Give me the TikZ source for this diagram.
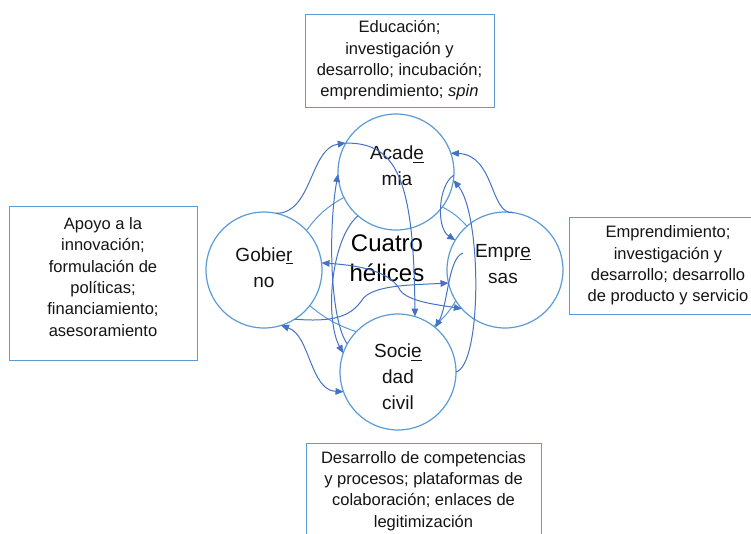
\documentclass[tikz,border=0pt]{standalone}
\usepackage{fontspec}
\setmainfont{Liberation Sans}
\usetikzlibrary{arrows.meta,calc}
\definecolor{ringblue}{RGB}{91,155,213}
\definecolor{arrowblue}{RGB}{68,114,196}

\begin{document}
\begin{tikzpicture}
	[x=0.75pt, y=-0.75pt,
	>={Triangle[length=6pt,width=5pt]},
	helix/.style ={circle, draw=ringblue, line width=0.9pt, minimum size=87pt, inner sep=0pt, outer sep=0pt},
	infobox/.style ={rectangle, draw=ringblue, line width=0.75pt, align=center, inner sep=0pt, text=black!92, font=\fontsize{12.4}{16}\selectfont},
	ringtext/.style ={align=center, inner sep=0pt, text=black!92, font=\fontsize{14.25}{19.5}\selectfont},
	midtext/.style ={align=center, inner sep=0pt, text=black, font=\fontsize{18}{22.5}\selectfont},
	line/.style ={draw=arrowblue, line width=0.75pt, ->},
	twin/.style ={draw=arrowblue, line width=0.75pt, <->},
	link/.style ={draw=ringblue, line width=0.75pt}]
	\useasboundingbox (0,0) rectangle (751,533);
	\clip (0,0) rectangle (751,533);
	\draw (396,172) node[helix] (acad) {};
	\draw (264,270) node[helix] (gob) {};
	\draw (505,270) node[helix] (emp) {};
	\draw (398,372) node[helix] (soc) {};
	\draw (397,166) node[ringtext] (acadtxt) {Acad\underline{e}\\mia};
	\draw (264,268) node[ringtext] (gobtxt) {Gobie\underline{r}\\no};
	\draw (503,264) node[ringtext] (emptxt) {Empr\underline{e}\\sas};
	\draw (398,377) node[ringtext] (soctxt) {Soci\underline{e}\\dad\\civil};
	\draw (387,258) node[midtext] (core) {Cuatro\\hélices};
	\draw (399.5,60.5) node[infobox, minimum width=141.75pt, minimum height=69.75pt] (acadbox) {Educación;\\investigación y\\desarrollo; incubación;\\emprendimiento; \textit{spin}};
	\draw (103,283) node[infobox, minimum width=141pt, minimum height=115.5pt] (gobbox) {Apoyo a la\\innovación;\\formulación de\\políticas;\\financiamiento;\\asesoramiento\\[-7pt]\mbox{}};
	\draw (668,265.5) node[infobox, minimum width=148.5pt, minimum height=72.75pt] (empbox) {Emprendimiento;\\investigación y\\desarrollo; desarrollo\\de producto y servicio};
	\draw (423.5,491) node[infobox, minimum width=176.25pt, minimum height=72pt] (socbox) {Desarrollo de competencias\\y procesos; plataformas de\\colaboración; enlaces de\\legitimización};
	\coordinate (e1) at ($(emp)+(-42,-17)$);
	\draw[link] (gob.43) to[bend left=12] (acad.206);
	\draw[link] (acad.-37) to[bend left=10] (emp.131);
	\draw[link] (emp.212) to[bend left=10] (soc.52);
	\draw[link] (soc.136) to[bend left=10] (gob.-38);
	\draw[line] (gob.78) .. controls (312,214) and (310,148) .. (acad.150);
	\draw[line] (acad.150) .. controls (395,143) and (414,175) .. (soc.73);
	\draw[line] (soc.151) .. controls (330,320) and (328,230) .. (acad.182);
	\draw[line] (acad.229) .. controls (330,240) and (325,320) .. (soc.161);
	\draw[line] (emp.82) .. controls (490,215) and (495,155) .. (acad.19);
	\draw[line] (soc.0) .. controls (482,365) and (482,215) .. (acad.-8);
	\draw[line] (acad.-3) .. controls (438,185) and (436,228) .. (emp.149);
	\draw[line] (e1) .. controls (448,258) and (448,305) .. (soc.50);
	\draw[line] (gob.-58) .. controls (330,322) and (350,318) .. (362,300) .. controls (372,285) and (410,285) .. (emp.193);
	\draw[twin] (gob.7) .. controls (370,266) and (392,275) .. (400,290) .. controls (408,302) and (440,305) .. (emp.222);
	\draw[twin] (gob.-73) .. controls (310,335) and (310,390) .. (soc.200);
\end{tikzpicture}
\end{document}
